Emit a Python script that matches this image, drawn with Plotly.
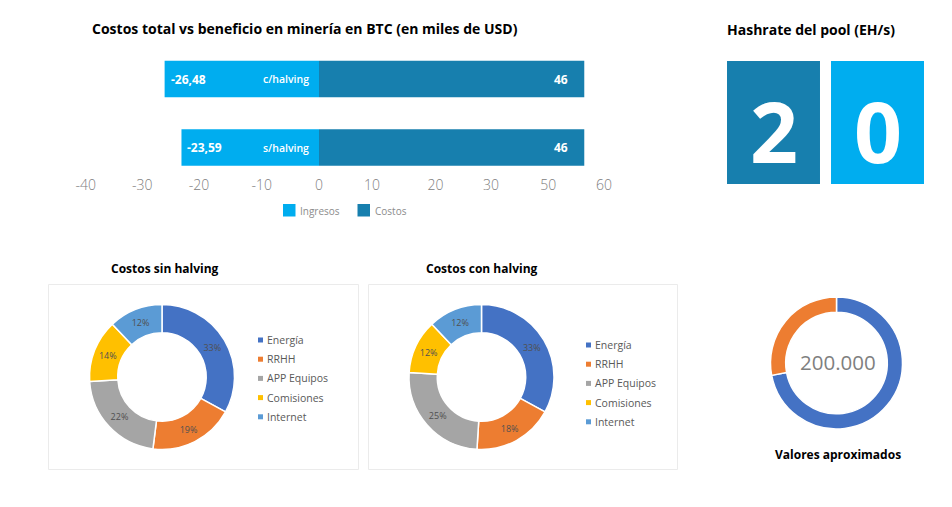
import plotly.graph_objects as go

# datos
escenarios = ["s/halving", "c/halving"]
ingresos = [-23.59, -26.48]
ingresos_txt = ["-23,59", "-26,48"]
costos = [45.5, 45.5]
costos_txt = ["46", "46"]
eje_vals = [-40, -30.3, -20.6, -9.8, 0, 9.1, 20, 29.5, 39.3, 48.9]
eje_txt = ["-40", "-30", "-20", "-10", "0", "10", "20", "30", "50", "60"]

hash_digitos = ["2", "0"]
hash_alto = [1, 1]

categorias = ["Energía", "RRHH", "APP Equipos", "Comisiones", "Internet"]
sin_halving = [33, 19, 22, 14, 12]
con_halving = [33, 18, 25, 12, 12]
aprox_labels = ["A", "B"]
aprox_vals = [72, 28]

CELESTE = "#00ADEF"
AZUL = "#177FAE"
COLORES_PIE = ["#4472C4", "#ED7D31", "#A5A5A5", "#FFC000", "#5B9BD5"]
FONT = "Open Sans"
W, H = 952, 507


def px(x):
    return x / W


def py(y):
    return 1 - y / H


def dom_x(a, b):
    return [px(a), px(b)]


def dom_y(top, bottom):
    return [py(bottom), py(top)]


fig = go.Figure()

# barras
fig.add_trace(go.Bar(y=escenarios, x=ingresos, orientation="h", name="Ingresos",
                     marker=dict(color=CELESTE, line_width=0), showlegend=False))
fig.add_trace(go.Bar(y=escenarios, x=costos, orientation="h", name="Costos",
                     marker=dict(color=AZUL, line_width=0), showlegend=False))

# cuadros del hashrate
fig.add_trace(go.Bar(x=[0, 1], y=hash_alto, xaxis="x2", yaxis="y2", width=0.894,
                     marker=dict(color=[AZUL, CELESTE], line_width=0),
                     showlegend=False))

# donas
for valores, cx in [(sin_halving, 162), (con_halving, 481.5)]:
    fig.add_trace(go.Pie(
        labels=categorias, values=valores, hole=0.61, sort=False, direction="clockwise",
        domain=dict(x=dom_x(cx - 72.5, cx + 72.5), y=dom_y(304.5, 449.5)),
        marker=dict(colors=COLORES_PIE, line=dict(color="white", width=1.5)),
        textinfo="percent", textposition="inside", insidetextorientation="horizontal",
        textfont=dict(family=FONT, size=9, color="#505050"),
        showlegend=False,
    ))

fig.add_trace(go.Pie(
    labels=aprox_labels, values=aprox_vals, hole=0.77, sort=False, direction="clockwise",
    domain=dict(x=dom_x(770.5, 902.5), y=dom_y(297, 429)),
    marker=dict(colors=COLORES_PIE[:2], line=dict(color="white", width=1.5)),
    textinfo="none", showlegend=False,
))

shapes = []
anotaciones = []


def texto(t, x, y, size, color="#000000", weight=400, anchor="center"):
    anotaciones.append(dict(text=t, x=px(x), y=py(y), xref="paper", yref="paper",
                            showarrow=False, xanchor=anchor, yanchor="middle",
                            font=dict(family=FONT, size=size, color=color, weight=weight)))


def cuadrito(x0, y0, lado, color):
    shapes.append(dict(type="rect", xref="paper", yref="paper", x0=px(x0), x1=px(x0 + lado),
                       y0=py(y0), y1=py(y0 + lado), fillcolor=color, line_width=0))


# etiquetas dentro de las barras
for i, esc in enumerate(escenarios):
    anotaciones.append(dict(text=ingresos_txt[i], x=ingresos[i], y=esc, xref="x", yref="y",
                            showarrow=False, xanchor="left", xshift=4,
                            font=dict(family=FONT, size=12, color="white", weight=700)))
    anotaciones.append(dict(text=esc, x=0, y=esc, xref="x", yref="y",
                            showarrow=False, xanchor="right", xshift=-8,
                            font=dict(family=FONT, size=10.5, color="white", weight=600)))
    anotaciones.append(dict(text=costos_txt[i], x=costos[i], y=esc, xref="x", yref="y",
                            showarrow=False, xanchor="right", xshift=-14,
                            font=dict(family=FONT, size=12, color="white", weight=700)))

# dígitos del hashrate
for i, d in enumerate(hash_digitos):
    anotaciones.append(dict(text=d, x=i, y=0.5, xref="x2", yref="y2", showarrow=False,
                            yshift=-8,
                            font=dict(family=FONT, size=84, color="white", weight=700)))

# títulos
texto("Costos total vs beneficio en minería en BTC (en miles de USD)", 305, 29, 14, weight=700)
texto("Hashrate del pool (EH/s)", 811, 30, 14, weight=700)
texto("Costos sin halving", 165, 268, 12, weight=700)
texto("Costos con halving", 482, 268, 12, weight=700)
texto("Valores aproximados", 838, 454, 12, weight=700)
texto("200.000", 837.5, 362, 20.5, color="#7F7F7F")

# leyenda de las barras
cuadrito(283, 204, 12.5, CELESTE)
texto("Ingresos", 298, 210.5, 10, color="#8C8C8C", anchor="left")
cuadrito(357.5, 204, 12.5, AZUL)
texto("Costos", 373, 210.5, 10, color="#8C8C8C", anchor="left")

# leyendas de las donas
for x_marca, y_ini in [(258, 340), (586, 345)]:
    for i, cat in enumerate(categorias):
        y = y_ini + i * 19.2
        cuadrito(x_marca, y - 2.5, 5, COLORES_PIE[i])
        texto(cat, x_marca + 7, y, 10.5, color="#595959", anchor="left")

# marcos de las donas
for x0, x1 in [(48.5, 358.5), (368.5, 677.5)]:
    shapes.append(dict(type="rect", xref="paper", yref="paper", x0=px(x0), x1=px(x1),
                       y0=py(469.5), y1=py(284.5), line=dict(color="#EBEBEB", width=1),
                       layer="below"))

fig.update_layout(
    width=W, height=H,
    margin=dict(l=0, r=0, t=0, b=0),
    paper_bgcolor="white", plot_bgcolor="white",
    barmode="relative", bargap=0.467,
    font=dict(family=FONT),
    xaxis=dict(domain=dom_x(85.8, 610.5), range=[-40, 50], tickvals=eje_vals, ticktext=eje_txt,
               showgrid=False, zeroline=False, showline=False, ticks="", automargin=False,
               tickfont=dict(family=FONT, size=14, color="#808080", weight=300)),
    yaxis=dict(domain=dom_y(51.6, 175), range=[-0.4, 1.4], showticklabels=False, automargin=False,
               showgrid=False, zeroline=False, showline=False, ticks=""),
    xaxis2=dict(domain=dom_x(721.5, 929.5), range=[-0.5, 1.5], visible=False, anchor="y2",
                automargin=False),
    yaxis2=dict(domain=dom_y(61, 184), range=[0, 1], visible=False, anchor="x2",
                automargin=False),
    shapes=shapes, annotations=anotaciones,
)

fig.write_html("out.html", config=dict(displayModeBar=False),
               post_script="document.body.style.margin='0';")
